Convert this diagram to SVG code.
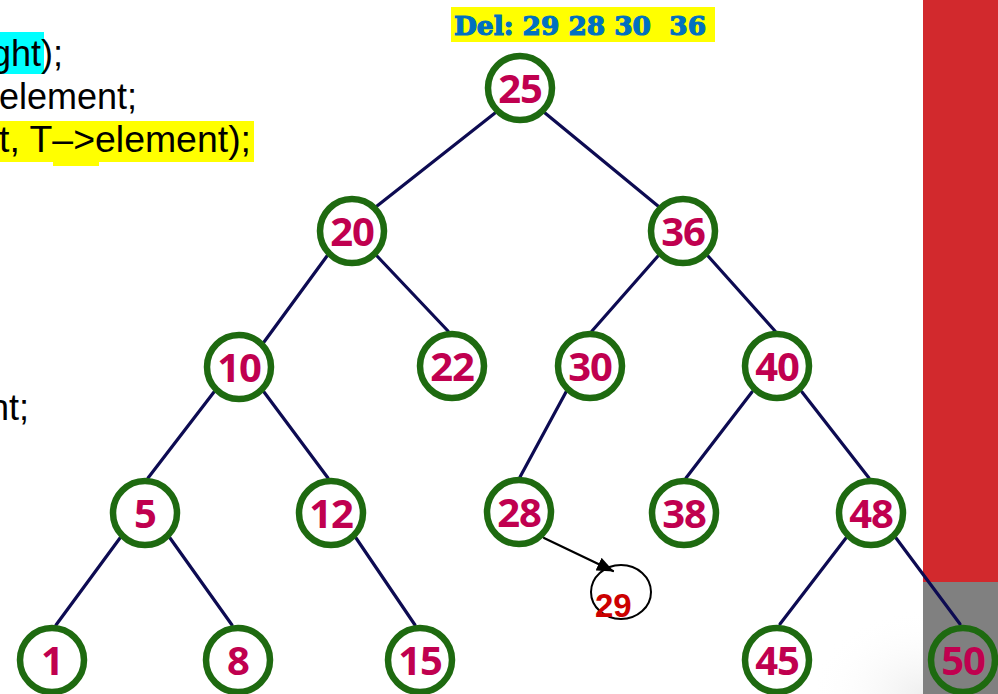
<svg xmlns="http://www.w3.org/2000/svg" width="998" height="694" viewBox="0 0 998 694">
<defs>
<style>
.code{font-family:"Liberation Sans",Arial,sans-serif;font-size:36px;fill:#000}
.node circle{fill:none;stroke:#1E6A10;stroke-width:6.5}
.node text{font-family:"Open Sans","Noto Sans",sans-serif;font-weight:bold;font-size:40px;fill:#C0004F;text-anchor:middle;letter-spacing:-1px}
.edges line{stroke:#0D0B52;stroke-width:3.2;stroke-linecap:round}
</style>
<marker id="arr" viewBox="0 0 17 14" refX="16" refY="7" markerWidth="17" markerHeight="14" orient="auto" markerUnits="userSpaceOnUse">
<path d="M0,0 L17,7 L0,14 z" fill="#000"/>
</marker>
<radialGradient id="bg" cx="1" cy="1" r="1">
<stop offset="0" stop-color="#efefef"/>
<stop offset="0.35" stop-color="#ffffff" stop-opacity="0"/>
</radialGradient>
</defs>
<rect x="0" y="0" width="998" height="694" fill="#fff"/>
<rect x="600" y="450" width="323" height="244" fill="url(#bg)"/>
<rect x="923" y="0" width="75" height="582" fill="#D2292D"/>
<rect x="923" y="582" width="75" height="112" fill="#808080"/>

<g id="code">
<rect x="0" y="32" width="44" height="42" fill="#00FFFF"/>
<rect x="0" y="121" width="254" height="41" fill="#FFFF00"/>
<rect x="53" y="124" width="46" height="42" fill="#FFFF00"/>
<text class="code" x="63" y="66" text-anchor="end">ght);</text>
<text class="code" x="137" y="109" text-anchor="end">element;</text>
<text class="code" x="-1" y="152" textLength="252" lengthAdjust="spacingAndGlyphs">t, T–&gt;element);</text>
<text class="code" x="29" y="420" text-anchor="end">nt;</text>
</g>

<g id="title">
<rect x="451" y="7" width="264" height="35" fill="#FFFF00"/>
<text x="454" y="35" xml:space="preserve" textLength="252" lengthAdjust="spacingAndGlyphs" style="font-family:'DejaVu Serif',serif;font-weight:bold;font-size:26px;fill:#0070C0;stroke:#0070C0;stroke-width:1.2">Del: 29 28 30  36</text>
</g>

<g id="connectors" class="edges">
<line x1="495" y1="113" x2="377" y2="206"/>
<line x1="545" y1="113" x2="658" y2="206"/>
<line x1="327" y1="256" x2="264" y2="342"/>
<line x1="377" y1="256" x2="448" y2="331"/>
<line x1="658" y1="256" x2="592" y2="331"/>
<line x1="708" y1="256" x2="775" y2="331"/>
<line x1="214" y1="392" x2="148" y2="478"/>
<line x1="264" y1="392" x2="328" y2="478"/>
<line x1="566" y1="392" x2="520" y2="477"/>
<line x1="752" y1="392" x2="686" y2="478"/>
<line x1="802" y1="392" x2="869" y2="478"/>
<line x1="120" y1="538" x2="56" y2="625"/>
<line x1="170" y1="538" x2="232" y2="625"/>
<line x1="356" y1="538" x2="415" y2="625"/>
<line x1="846" y1="538" x2="780" y2="624"/>
<line x1="896" y1="538" x2="960" y2="624"/>
<line x1="544" y1="538" x2="613" y2="571" style="stroke:#000;stroke-width:2.2" marker-end="url(#arr)"/>
</g>

<g id="n25" class="node"><circle cx="520" cy="88" r="32"/><text x="520" y="103">25</text></g>
<g id="n20" class="node"><circle cx="352" cy="231" r="32"/><text x="352" y="246">20</text></g>
<g id="n36" class="node"><circle cx="683" cy="231" r="32"/><text x="683" y="246">36</text></g>
<g id="n10" class="node"><circle cx="239" cy="367" r="32"/><text x="239" y="382">10</text></g>
<g id="n22" class="node"><circle cx="452" cy="366" r="32"/><text x="452" y="381">22</text></g>
<g id="n30" class="node"><circle cx="590" cy="366" r="32"/><text x="590" y="381">30</text></g>
<g id="n40" class="node"><circle cx="777" cy="366" r="32"/><text x="777" y="381">40</text></g>
<g id="n5" class="node"><circle cx="145" cy="513" r="32"/><text x="145" y="528">5</text></g>
<g id="n12" class="node"><circle cx="331" cy="513" r="32"/><text x="331" y="528">12</text></g>
<g id="n28" class="node"><circle cx="519" cy="512" r="32"/><text x="519" y="527">28</text></g>
<g id="n38" class="node"><circle cx="684" cy="513" r="32"/><text x="684" y="528">38</text></g>
<g id="n48" class="node"><circle cx="871" cy="513" r="32"/><text x="871" y="528">48</text></g>
<g id="n1" class="node"><circle cx="52" cy="660" r="32"/><text x="52" y="675">1</text></g>
<g id="n8" class="node"><circle cx="238" cy="660" r="32"/><text x="238" y="675">8</text></g>
<g id="n15" class="node"><circle cx="420" cy="660" r="32"/><text x="420" y="675">15</text></g>
<g id="n45" class="node"><circle cx="777" cy="660" r="32"/><text x="777" y="675">45</text></g>
<g id="n50" class="node"><circle cx="963" cy="660" r="32"/><text x="963" y="675">50</text></g>

<g id="n29">
<ellipse cx="621" cy="592" rx="30" ry="27" fill="none" stroke="#000" stroke-width="2"/>
<text x="595" y="617" style="font-family:'Liberation Sans',Arial,sans-serif;font-weight:bold;font-size:33px;fill:#CC0000">29</text>
</g>
</svg>
